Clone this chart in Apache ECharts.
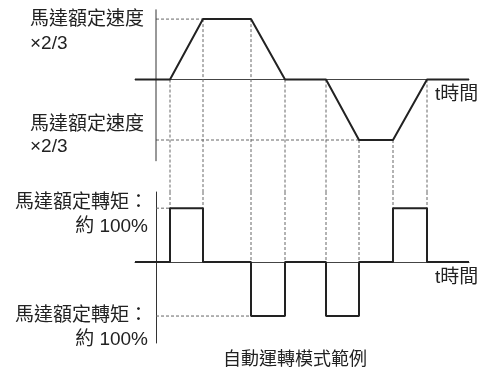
<!DOCTYPE html>
<html><head><meta charset="utf-8">
<script src="https://cdn.jsdelivr.net/npm/echarts@6/dist/echarts.min.js"></script>
<style>html,body{margin:0;padding:0;background:#fff}#c{width:487px;height:372px}</style>
</head><body><div id="c"></div>
<script>
// time breakpoints (arbitrary units, 0 = vertical axis)
const timePts = [-21, 14, 47, 95, 129, 170, 203, 237, 271, 313];
// speed (in units of rated speed x2/3) at each breakpoint
const speedVals = [0, 0, 1, 1, 0, 0, -1, -1, 0, 0];
// torque (in units of rated torque) on each segment between breakpoints
const torqueVals = [0, 1, 0, -1, 0, -1, 0, 1, 0];
const speedLabel = ['馬達額定速度', '×2/3'];
const torqueLabel = ['馬達額定轉矩：', '約 100%'];
const timeLabel = 't時間';
const caption = '自動運轉模式範例';

const FONT = '"Liberation Sans","Noto Sans CJK TC","Noto Sans CJK SC",sans-serif';
const INK = '#222';
const DASH = {color: '#666', width: 1, type: [3, 2]};

const U = {min: -1.86, max: 1.2};   // upper y range
const L = {min: -1.5, max: 1.3};    // lower y range

// torque step points
const torquePts = [];
torqueVals.forEach((v, i) => { torquePts.push([timePts[i], v], [timePts[i + 1], v]); });
const speedPts = timePts.map((t, i) => [t, speedVals[i]]);

function seg(grid, pts, style) {
  return {type: 'line', xAxisIndex: grid, yAxisIndex: grid, data: pts, symbol: 'none',
    silent: true, animation: false, lineStyle: style, z: style.z || 2};
}
const series = [];
// upper axis line
series.push(seg(0, [[0, 1.16], [0, -1.35]], {color: '#333', width: 1, z: 3}));
// dashed guides
const guideUpper = [0, 1, 1, 0, 0, -1, -1, 0];
const guideLower = [1, 1, 0, 0, 0, 0, 1, 1];
for (let i = 1; i <= 8; i++) {
  series.push(seg(0, [[timePts[i], guideUpper[i - 1]], [timePts[i], U.min]], DASH));
  series.push(seg(1, [[timePts[i], L.max], [timePts[i], guideLower[i - 1]]], DASH));
}
// horizontal dashed
series.push(seg(0, [[0, 1], [timePts[2], 1]], DASH));
series.push(seg(0, [[0, -1], [timePts[6], -1]], DASH));
series.push(seg(1, [[0, 1], [timePts[1], 1]], DASH));
series.push(seg(1, [[0, -1], [timePts[3], -1]], DASH));
// main curves
series.push(seg(0, speedPts, {color: INK, width: 2, z: 5}));
series.push(seg(1, torquePts, {color: INK, width: 2, z: 5}));

function txt(x, y, s, align, size) {
  return {type: 'text', x: x, y: y, style: {text: s, fill: INK, font: (size || 19) + 'px ' + FONT,
    textAlign: align || 'left', textVerticalAlign: 'middle'}};
}

const chart = echarts.init(document.getElementById('c'), null, {renderer: 'canvas'});
chart.setOption({
  animation: false,
  grid: [
    {left: 135, right: 18, top: 7, height: 185},
    {left: 135, right: 18, top: 192, height: 151}
  ],
  xAxis: [0, 1].map(g => ({type: 'value', gridIndex: g, min: timePts[0], max: timePts[timePts.length - 1],
    axisLine: {show: true, onZero: true, lineStyle: {color: '#444', width: 1}},
    axisTick: {show: false}, axisLabel: {show: false}, splitLine: {show: false}})),
  yAxis: [
    {type: 'value', gridIndex: 0, min: U.min, max: U.max, axisLine: {show: false},
      axisTick: {show: false}, axisLabel: {show: false}, splitLine: {show: false}},
    {type: 'value', gridIndex: 1, min: L.min, max: L.max,
      axisLine: {show: true, onZero: true, lineStyle: {color: '#333', width: 1}},
      axisTick: {show: false}, axisLabel: {show: false}, splitLine: {show: false}}
  ],
  series: series,
  graphic: [
    txt(30, 20, speedLabel[0]), txt(30, 44, speedLabel[1]),
    txt(30, 125, speedLabel[0]), txt(30, 147, speedLabel[1]),
    txt(148, 203, torqueLabel[0], 'right'), txt(148, 227, torqueLabel[1], 'right'),
    txt(148, 316, torqueLabel[0], 'right'), txt(148, 340, torqueLabel[1], 'right'),
    txt(435, 95, timeLabel), txt(435, 278, timeLabel),
    txt(295, 360, caption, 'center', 18)
  ]
});
</script></body></html>
